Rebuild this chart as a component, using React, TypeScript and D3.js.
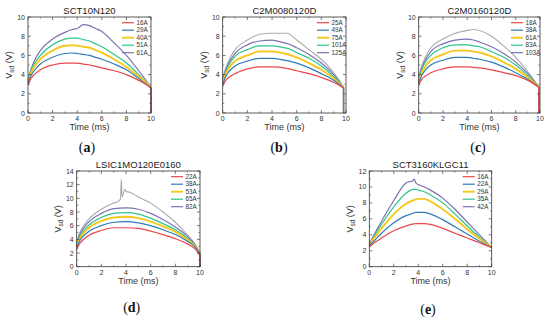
import * as d3 from 'd3'

// ---- data ----
const tA = [0, 0.25, 0.5, 1, 2, 3, 3.6, 4, 4.5, 5, 5.5, 6, 7, 8, 9, 9.8, 10]
const a16 = [2.9, 3.6, 4.0, 4.5, 5.0, 5.2, 5.2, 5.2, 5.1, 5.0, 4.85, 4.7, 4.4, 4.0, 3.4, 2.8, 2.6]
const a29 = [3.1, 3.9, 4.4, 5.1, 5.8, 6.2, 6.25, 6.2, 6.1, 6.0, 5.8, 5.6, 5.1, 4.5, 3.6, 2.8, 2.6]
const a40 = [3.2, 4.2, 4.8, 5.6, 6.5, 7.0, 7.05, 7.0, 6.9, 6.8, 6.55, 6.3, 5.6, 4.8, 3.8, 2.9, 2.6]
const a51 = [3.3, 4.4, 5.1, 6.0, 7.1, 7.7, 7.8, 7.8, 7.65, 7.5, 7.2, 6.9, 6.1, 5.2, 4.0, 2.9, 2.6]
const a61 = [3.5, 4.6, 5.4, 6.5, 7.7, 8.4, 8.7, 8.8, 9.2, 9.1, 8.8, 8.5, 7.3, 6.0, 4.4, 3.0, 2.6]

const tB = [0, 0.25, 0.5, 1, 2, 3, 4, 5, 5.2, 6, 7, 8, 9, 9.8]
const b25 = [2.8, 3.4, 3.7, 4.1, 4.6, 4.8, 4.8, 4.7, 4.65, 4.4, 4.1, 3.7, 3.2, 2.6]
const b49 = [3.0, 3.8, 4.3, 4.9, 5.4, 5.7, 5.7, 5.5, 5.45, 5.2, 4.7, 4.1, 3.4, 2.6]
const b75 = [3.2, 4.1, 4.7, 5.4, 6.0, 6.4, 6.4, 6.2, 6.15, 5.8, 5.2, 4.5, 3.6, 2.7]
const b101 = [3.4, 4.3, 5.0, 5.9, 6.6, 7.0, 7.0, 6.8, 6.75, 6.3, 5.7, 4.9, 3.8, 2.7]
const b125 = [3.5, 4.5, 5.2, 6.2, 7.1, 7.5, 7.6, 7.3, 7.25, 6.8, 6.1, 5.2, 4.0, 2.7]
const bTop = [3.6, 4.7, 5.5, 6.6, 7.6, 8.2, 8.3, 8.3, 8.3, 7.6, 6.6, 5.6, 4.2, 2.7]

const tC = [0, 0.25, 0.5, 1, 2, 3, 4, 4.5, 5, 6, 7, 8, 9, 9.9]
const c18 = [2.9, 3.5, 3.8, 4.2, 4.6, 4.8, 4.8, 4.75, 4.7, 4.5, 4.2, 3.9, 3.4, 2.7]
const c38 = [3.1, 3.9, 4.4, 5.0, 5.5, 5.8, 5.8, 5.7, 5.6, 5.3, 4.8, 4.2, 3.5, 2.7]
const c61 = [3.3, 4.2, 4.8, 5.5, 6.1, 6.5, 6.5, 6.4, 6.3, 5.9, 5.3, 4.6, 3.7, 2.7]
const c83 = [3.5, 4.5, 5.2, 6.0, 6.8, 7.1, 7.1, 7.0, 6.9, 6.4, 5.8, 5.0, 3.9, 2.7]
const c103 = [3.6, 4.7, 5.4, 6.4, 7.2, 7.6, 7.7, 7.6, 7.4, 6.9, 6.2, 5.3, 4.1, 2.7]
const cTop = [3.7, 4.9, 5.7, 6.8, 7.7, 8.3, 8.6, 8.7, 8.6, 8.0, 7.0, 5.8, 4.3, 2.7]

const tD = [0, 0.25, 0.5, 1, 2, 3, 4, 5, 6, 7, 8, 9, 9.6, 10]
const d22 = [2.5, 3.4, 3.9, 4.6, 5.3, 5.7, 5.7, 5.6, 5.2, 4.7, 4.1, 3.3, 2.6, 1.6]
const d38 = [2.8, 3.8, 4.4, 5.2, 6.0, 6.5, 6.6, 6.4, 6.0, 5.4, 4.7, 3.7, 2.9, 1.8]
const d53 = [3.0, 4.1, 4.8, 5.7, 6.7, 7.2, 7.3, 7.1, 6.6, 5.9, 5.1, 3.9, 3.0, 1.9]
const d65 = [3.2, 4.4, 5.1, 6.1, 7.2, 7.8, 7.9, 7.7, 7.1, 6.3, 5.4, 4.1, 3.1, 2.0]
const d82 = [3.4, 4.7, 5.5, 6.6, 7.8, 8.5, 8.6, 8.4, 7.8, 6.9, 5.8, 4.4, 3.2, 2.0]
const tDTop = [0, 0.25, 0.5, 1, 2, 3, 3.4, 3.55, 3.62, 3.68, 3.75, 3.9, 4, 4.3, 5, 6, 7, 8, 9, 9.6, 10]
const dTop = [3.6, 5.0, 5.8, 7.0, 8.4, 9.3, 9.6, 9.9, 12.8, 10.2, 10.5, 11.3, 11.0, 10.9, 10.2, 9.3, 8.0, 6.5, 4.6, 3.3, 2.0]

const tE = [0, 0.5, 1, 2, 3, 3.4, 3.55, 3.65, 3.8, 4, 4.5, 5, 6, 7, 8, 9, 10]
const e16 = [2.5, 3.1, 3.6, 4.5, 5.1, 5.3, 5.35, 5.37, 5.4, 5.4, 5.4, 5.3, 4.8, 4.2, 3.6, 3.0, 2.4]
const e22 = [2.6, 3.4, 4.2, 5.5, 6.4, 6.6, 6.7, 6.75, 6.8, 6.8, 6.8, 6.6, 5.9, 5.0, 4.1, 3.2, 2.4]
const e29 = [2.7, 3.8, 4.8, 6.6, 7.9, 8.2, 8.3, 8.35, 8.45, 8.5, 8.5, 8.2, 7.2, 6.0, 4.7, 3.5, 2.4]
const e35 = [2.8, 4.1, 5.3, 7.5, 9.2, 9.6, 9.7, 9.7, 9.7, 9.6, 9.4, 9.0, 8.0, 6.6, 5.1, 3.7, 2.4]
const e42 = [2.9, 4.3, 5.7, 8.3, 10.5, 10.7, 10.75, 11.0, 10.5, 10.3, 10.0, 9.6, 8.6, 7.2, 5.6, 4.0, 2.4]

const labelsA = ['16A', '29A', '40A', '51A', '61A']
const labelsB = ['25A', '49A', '75A', '101A', '125A']
const labelsC = ['18A', '38A', '61A', '83A', '103A']
const labelsD = ['22A', '38A', '53A', '65A', '82A']
const labelsE = ['16A', '22A', '29A', '35A', '42A']

const xTicks = [0, 2, 4, 6, 8, 10]

// ---- styles ----
const colors = ['#e8474c', '#2d7db8', '#f6c81e', '#2fc48d', '#7a72b2', '#ababab']
const widths = [1.2, 1.2, 1.9, 1.2, 1.2, 1.1]
const sans = 'Liberation Sans, Arial, sans-serif'
const serif = 'Liberation Serif, Times New Roman, serif'

type Series = { t: number[]; v: number[] }
type PanelCfg = {
  id: string
  title: string
  left: number
  right: number
  top: number
  bottom: number
  yMax: number
  series: Series[]
  labels: string[]
  dropAt: number | null
  letterX: number
  letterY: number
}

const panels: PanelCfg[] = [
  {
    id: 'a', title: 'SCT10N120', left: 28, right: 151, top: 17, bottom: 113, yMax: 10,
    series: [a16, a29, a40, a51, a61].map((v) => ({ t: tA, v })),
    labels: labelsA, dropAt: 10, letterX: 87, letterY: 151.5,
  },
  {
    id: 'b', title: 'C2M0080120D', left: 222.7, right: 346, top: 17, bottom: 113, yMax: 10,
    series: [b25, b49, b75, b101, b125, bTop].map((v) => ({ t: tB, v })),
    labels: labelsB, dropAt: 9.8, letterX: 279, letterY: 151.5,
  },
  {
    id: 'c', title: 'C2M0160120D', left: 418.7, right: 540, top: 17, bottom: 113, yMax: 10,
    series: [c18, c38, c61, c83, c103, cTop].map((v) => ({ t: tC, v })),
    labels: labelsC, dropAt: 9.9, letterX: 478, letterY: 151.5,
  },
  {
    id: 'd', title: 'LSIC1MO120E0160', left: 76.7, right: 200, top: 171, bottom: 266.7, yMax: 14,
    series: [
      ...[d22, d38, d53, d65, d82].map((v) => ({ t: tD, v })),
      { t: tDTop, v: dTop },
    ],
    labels: labelsD, dropAt: 10, letterX: 131.7, letterY: 311.5,
  },
  {
    id: 'e', title: 'SCT3160KLGC11', left: 369.3, right: 491.7, top: 171, bottom: 266.7, yMax: 12,
    series: [e16, e22, e29, e35, e42].map((v) => ({ t: tE, v })),
    labels: labelsE, dropAt: null, letterX: 428, letterY: 313.5,
  },
]

function Panel({ p }: { p: PanelCfg }) {
  const x = d3.scaleLinear().domain([0, 10]).range([p.left, p.right])
  const y = d3.scaleLinear().domain([0, p.yMax]).range([p.bottom, p.top])
  const line = d3
    .line<[number, number]>()
    .x((d) => x(d[0]))
    .y((d) => y(d[1]))
    .curve(d3.curveMonotoneX)
  const yTicks = d3.range(0, p.yMax + 0.001, 2)
  const xMinor = d3.range(1, 10, 2)
  const yMinor = d3.range(1, p.yMax, 2)
  const cx = (p.left + p.right) / 2
  const cy = (p.top + p.bottom) / 2
  const order = p.series.map((_, i) => i).reverse()
  const tk = '#444'

  return (
    <g>
      {order.map((i) => {
        const s = p.series[i]
        const pts = s.t.map((t, k) => [t, s.v[k]] as [number, number])
        const last = pts[pts.length - 1]
        return (
          <g key={i}>
            <path d={line(pts) ?? ''} fill="none" stroke={colors[i]} strokeWidth={widths[i]} />
            {p.dropAt !== null && (
              <line x1={x(last[0])} x2={x(p.dropAt)} y1={y(last[1])} y2={y(0)}
                stroke={colors[i]} strokeWidth={1.2} />
            )}
          </g>
        )
      })}
      {/* frame + inward ticks */}
      <rect x={p.left} y={p.top} width={p.right - p.left} height={p.bottom - p.top}
        fill="none" stroke="#333" strokeWidth={0.8} />
      {xTicks.map((t) => (
        <g key={'x' + t}>
          <line x1={x(t)} x2={x(t)} y1={p.bottom} y2={p.bottom - 3} stroke={tk} strokeWidth={0.7} />
          <line x1={x(t)} x2={x(t)} y1={p.top} y2={p.top + 3} stroke={tk} strokeWidth={0.7} />
          <text x={x(t)} y={p.bottom + 8} textAnchor="middle" fontSize={7} fill="#333"
            fontFamily={sans}>{t}</text>
        </g>
      ))}
      {xMinor.map((t) => (
        <g key={'xm' + t}>
          <line x1={x(t)} x2={x(t)} y1={p.bottom} y2={p.bottom - 1.6} stroke={tk} strokeWidth={0.6} />
          <line x1={x(t)} x2={x(t)} y1={p.top} y2={p.top + 1.6} stroke={tk} strokeWidth={0.6} />
        </g>
      ))}
      {yTicks.map((t) => (
        <g key={'y' + t}>
          <line x1={p.left} x2={p.left + 3} y1={y(t)} y2={y(t)} stroke={tk} strokeWidth={0.7} />
          <line x1={p.right} x2={p.right - 3} y1={y(t)} y2={y(t)} stroke={tk} strokeWidth={0.7} />
          <text x={p.left - 3} y={y(t) + 2.5} textAnchor="end" fontSize={7} fill="#333"
            fontFamily={sans}>{t}</text>
        </g>
      ))}
      {yMinor.map((t) => (
        <g key={'ym' + t}>
          <line x1={p.left} x2={p.left + 1.6} y1={y(t)} y2={y(t)} stroke={tk} strokeWidth={0.6} />
          <line x1={p.right} x2={p.right - 1.6} y1={y(t)} y2={y(t)} stroke={tk} strokeWidth={0.6} />
        </g>
      ))}
      {/* legend */}
      {p.labels.map((lab, i) => {
        const ly = p.top + 5.7 + i * 7.5
        return (
          <g key={'l' + i}>
            <line x1={p.right - 29} x2={p.right - 17} y1={ly} y2={ly} stroke={colors[i]}
              strokeWidth={widths[i]} />
            <text x={p.right - 14.5} y={ly + 2.2} fontSize={6.3} fill="#333" fontFamily={sans}>{lab}</text>
          </g>
        )
      })}
      {/* titles and labels */}
      <text x={cx} y={p.top - 3.5} textAnchor="middle" fontSize={9.5} fill="#222"
        fontFamily={sans}>{p.title}</text>
      <text x={cx} y={p.bottom + 17} textAnchor="middle" fontSize={9} fill="#333"
        fontFamily={sans}>Time (ms)</text>
      <text transform={`translate(${p.left - 16},${cy}) rotate(-90)`} textAnchor="middle"
        fontSize={9} fill="#333" fontFamily={sans}>
        V<tspan fontSize={6.5} dy={2}>sd</tspan><tspan dy={-2}> (V)</tspan>
      </text>
      <text x={p.letterX} y={p.letterY} textAnchor="middle" fontSize={14} fill="#111"
        fontFamily={serif}>
        (<tspan fontWeight="bold">{p.id}</tspan>)
      </text>
    </g>
  )
}

export default function App() {
  return (
    <svg width={550} height={321} viewBox="0 0 550 321"
      style={{ position: 'absolute', left: 0, top: 0, background: '#fff' }}>
      <rect width={550} height={321} fill="#fff" />
      {panels.map((p) => <Panel key={p.id} p={p} />)}
    </svg>
  )
}
